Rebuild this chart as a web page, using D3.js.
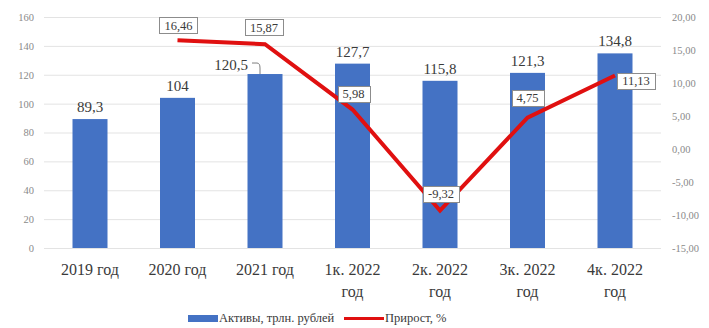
<!DOCTYPE html>
<html>
<head>
<meta charset="utf-8">
<script src="https://cdn.jsdelivr.net/npm/d3@7"></script>
<style>
  html, body { margin: 0; padding: 0; background: #fff; }
  svg { display: block; }
  .serif { font-family: "Liberation Serif", "Tinos", "Times New Roman", "DejaVu Serif", serif; }
</style>
</head>
<body>
<svg id="chart" width="709" height="328"></svg>
<script>
// Categories (multi-line labels split on "\n")
const categories = ["2019 год", "2020 год", "2021 год", "1к. 2022\nгод", "2к. 2022\nгод", "3к. 2022\nгод", "4к. 2022\nгод"];
// Assets, trillion roubles
const assets = [89.3, 104, 120.5, 127.7, 115.8, 121.3, 134.8];
// Growth, % (no value for the first period)
const growth = [null, 16.46, 15.87, 5.98, -9.32, 4.75, 11.13];
// Axis ticks
const leftTicks = [0, 20, 40, 60, 80, 100, 120, 140, 160];
const rightTicks = [-15, -10, -5, 0, 5, 10, 15, 20];
// Legend entries
const legendNames = ["Активы, трлн. рублей", "Прирост, %"];

const fmt1 = v => String(v).replace(".", ",");
const fmt2 = v => v.toFixed(2).replace(".", ",");

const svg = d3.select("#chart");
const blue = "#4472c4", red = "#e01010", textCol = "#3a3a3a";

const x = d3.scaleBand().domain(categories).range([46.25, 658.75]).paddingInner(0.6).paddingOuter(0.3);
const yL = d3.scaleLinear().domain([0, 160]).range([248, 17]);
const yR = d3.scaleLinear().domain([-15, 20]).range([248, 17]);
const cx = c => x(c) + x.bandwidth() / 2;

// Gridlines (left axis)
svg.append("g").selectAll("line").data(leftTicks).join("line")
  .attr("x1", 44).attr("x2", 661)
  .attr("y1", d => yL(d) + 0.5).attr("y2", d => yL(d) + 0.5)
  .attr("stroke", "#e3e3e3").attr("stroke-width", 1);

// Left axis labels
const axisL = d3.axisLeft(yL).tickValues(leftTicks).tickSize(0).tickPadding(0);
const gL = svg.append("g").attr("transform", "translate(34,0)").call(axisL);
gL.select(".domain").remove();
gL.attr("font-family", null).attr("font-size", null);
gL.selectAll("text").attr("class", "serif").attr("font-size", 10.5).attr("fill", "#8a8a8a");

// Right axis labels
const axisR = d3.axisRight(yR).tickValues(rightTicks).tickSize(0).tickPadding(0).tickFormat(fmt2);
const gR = svg.append("g").attr("transform", "translate(672,0)").call(axisR);
gR.select(".domain").remove();
gR.attr("font-family", null).attr("font-size", null);
gR.selectAll("text").attr("class", "serif").attr("font-size", 10.5).attr("fill", "#8a8a8a");

// Bars
svg.append("g").selectAll("rect").data(assets).join("rect")
  .attr("x", (d, i) => x(categories[i]))
  .attr("width", x.bandwidth())
  .attr("y", d => yL(d))
  .attr("height", d => yL(0) - yL(d))
  .attr("fill", blue);

// Bar value labels (the third one sits to the left with a leader line)
const barLabelShift = [0, 0, -34, 0, 0, 0, 0];
svg.append("g").selectAll("text").data(assets).join("text")
  .attr("class", "serif")
  .attr("x", (d, i) => cx(categories[i]) + barLabelShift[i])
  .attr("y", (d, i) => yL(d) - (barLabelShift[i] ? 4 : 7))
  .attr("text-anchor", "middle")
  .attr("font-size", 15)
  .attr("fill", textCol)
  .text(d => fmt1(d));
{
  const i = 2, bx = cx(categories[i]), by = yL(assets[i]);
  svg.append("path")
    .attr("d", `M${bx - 13},${by - 11} L${bx - 8},${by - 11} Q${bx - 5},${by - 11} ${bx - 5},${by - 6} L${bx - 5},${by}`)
    .attr("fill", "none").attr("stroke", "#7f7f7f").attr("stroke-width", 1);
}

// Growth line
const linePts = growth.map((v, i) => ({ v, c: categories[i] })).filter(d => d.v !== null);
svg.append("path")
  .datum(linePts)
  .attr("d", d3.line().x(d => cx(d.c)).y(d => yR(d.v)))
  .attr("fill", "none").attr("stroke", red).attr("stroke-width", 4)
  .attr("stroke-linejoin", "miter");

// Growth value labels in boxes
const boxOffset = [null, [1, -15], [-1, -17], [1, -16], [1, -17], [0, -20], [21, 5]];
const gB = svg.append("g");
linePts.forEach(d => {
  const i = categories.indexOf(d.c);
  const px = cx(d.c) + boxOffset[i][0], py = yR(d.v) + boxOffset[i][1];
  const g = gB.append("g");
  const t = g.append("text")
    .attr("class", "serif")
    .attr("x", px).attr("y", py + 4.5)
    .attr("text-anchor", "middle")
    .attr("font-size", 12.5)
    .attr("fill", textCol)
    .text(fmt2(d.v));
  const bb = t.node().getBBox();
  g.insert("rect", "text")
    .attr("x", Math.round(bb.x - 5) + 0.5).attr("y", Math.round(py - 8) + 0.5)
    .attr("width", Math.round(bb.width + 10)).attr("height", 16)
    .attr("fill", "#fff").attr("stroke", "#8c8c8c").attr("stroke-width", 1);
});

// Category labels
const gX = svg.append("g");
categories.forEach(c => {
  const lines = c.split("\n");
  const t = gX.append("text")
    .attr("class", "serif")
    .attr("x", cx(c)).attr("y", 275)
    .attr("text-anchor", "middle")
    .attr("font-size", 16)
    .attr("fill", textCol);
  lines.forEach((ln, k) => {
    t.append("tspan").attr("x", cx(c)).attr("dy", k ? 22 : 0).text(ln);
  });
});

// Legend
const lg = svg.append("g");
lg.append("rect").attr("x", 188).attr("y", 315).attr("width", 30).attr("height", 7).attr("fill", blue);
lg.append("text").attr("class", "serif").attr("x", 219).attr("y", 322)
  .attr("font-size", 12.5).attr("fill", textCol).text(legendNames[0]);
lg.append("line").attr("x1", 344).attr("x2", 384).attr("y1", 318.5).attr("y2", 318.5)
  .attr("stroke", red).attr("stroke-width", 3);
lg.append("text").attr("class", "serif").attr("x", 385).attr("y", 322)
  .attr("font-size", 12.5).attr("fill", textCol).text(legendNames[1]);
</script>
</body>
</html>
